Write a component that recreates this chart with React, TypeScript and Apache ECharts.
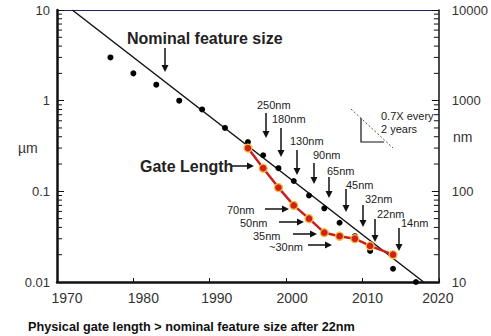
import React, { useEffect, useRef } from "react";
import * as echarts from "echarts";

const FONT = "Liberation Sans, Arial, sans-serif";

// Tick labels
const X_TICKS = [1970, 1980, 1990, 2000, 2010, 2020];
const X_LABEL_SHIFT = [10, 10, 7, 6, 5, -1];
const LEFT_LABELS: Record<string, string> = { "0.01": "0.01", "0.1": "0.1", "1": "1", "10": "10" };
const RIGHT_LABELS: Record<string, string> = { "10": "10", "100": "100", "1000": "1000", "10000": "10000" };
const MINOR_DECADES = [0.01, 0.1, 1];
const MINOR_STEPS = [2, 3, 4, 5, 6, 7, 8, 9];

// Series data (year, micrometres)
const NOMINAL_YEARS = [1977, 1980, 1983, 1986, 1989, 1992, 1995, 1997, 1999, 2001, 2003, 2005, 2007, 2009, 2011, 2014, 2017];
const NOMINAL_UM = [3, 2, 1.5, 1, 0.8, 0.5, 0.35, 0.25, 0.18, 0.13, 0.09, 0.065, 0.045, 0.032, 0.022, 0.014, 0.01];
const GATE_YEARS = [1995, 1997, 1999, 2001, 2003, 2005, 2007, 2009, 2011, 2014];
const GATE_UM = [0.3, 0.18, 0.11, 0.07, 0.05, 0.035, 0.032, 0.03, 0.025, 0.02];
const TREND_YEARS = [1972, 2018];
const TREND_UM = [10, 0.01];

function arrowDown(x: number, y1: number, y2: number) {
  return [
    { type: "line", shape: { x1: x, y1, x2: x, y2: y2 - 5 }, style: { stroke: "#111", lineWidth: 1.5 } },
    { type: "polygon", shape: { points: [[x - 3.5, y2 - 7], [x + 3.5, y2 - 7], [x, y2]] }, style: { fill: "#111" } },
  ];
}
function arrowRight(x1: number, x2: number, y: number) {
  return [
    { type: "line", shape: { x1, y1: y, x2: x2 - 5, y2: y }, style: { stroke: "#111", lineWidth: 1.5 } },
    { type: "polygon", shape: { points: [[x2 - 7, y - 3.5], [x2 - 7, y + 3.5], [x2, y]] }, style: { fill: "#111" } },
  ];
}
function txt(text: string, x: number, y: number, size: number, bold = false, color = "#222") {
  return {
    type: "text",
    x,
    y,
    style: { text, fontSize: size, fontFamily: FONT, fontWeight: bold ? "bold" : "normal", fill: color, textVerticalAlign: "middle", verticalAlign: "middle" },
  };
}

export default function App() {
  const ref = useRef<HTMLDivElement>(null);
  useEffect(() => {
    if (!ref.current) return;
    const chart = echarts.init(ref.current, undefined, { renderer: "svg" });

    const rich: Record<string, any> = {};
    X_TICKS.forEach((t, i) => {
      const d = X_LABEL_SHIFT[i];
      rich["t" + i] = {
        fontSize: 14,
        fontFamily: FONT,
        color: "#333",
        padding: d >= 0 ? [0, 0, 0, 2 * d] : [0, -2 * d, 0, 0],
      };
    });

    const minor: number[][] = [];
    MINOR_DECADES.forEach((d) => MINOR_STEPS.forEach((s) => minor.push([1970, d * s])));

    const annotations: any[] = [
      txt("Nominal feature size", 127, 38, 16, true, "#222"),
      ...arrowDown(165, 48, 72),
      txt("Gate Length", 140, 166, 16, true, "#222"),
      ...arrowRight(232, 254, 166),
      txt("250nm", 257, 105, 11),
      txt("180nm", 272, 119, 11),
      txt("130nm", 290, 141, 11),
      txt("90nm", 313, 155, 11),
      txt("65nm", 327, 171, 11),
      txt("45nm", 346, 185, 11),
      txt("32nm", 365, 199, 11),
      txt("22nm", 377, 214, 11),
      txt("14nm", 401, 223, 11),
      txt("70nm", 227, 210, 11),
      txt("50nm", 240, 223, 11),
      txt("35nm", 253, 236, 11),
      txt("~30nm", 269, 247, 11),
      ...arrowDown(266, 113, 138),
      ...arrowDown(281, 128, 157),
      ...arrowDown(297, 150, 175),
      ...arrowDown(314, 163, 184),
      ...arrowDown(329, 177, 198),
      ...arrowDown(346, 189, 212),
      ...arrowDown(363, 205, 227),
      ...arrowDown(375, 219, 242),
      ...arrowDown(399, 228, 251),
      ...arrowRight(265, 289, 209),
      ...arrowRight(279, 304, 222),
      ...arrowRight(293, 317, 234),
      ...arrowRight(308, 332, 245),
      { type: "line", shape: { x1: 351, y1: 109, x2: 393, y2: 148 }, style: { stroke: "#555", lineWidth: 1, lineDash: [2, 2] } },
      { type: "polyline", shape: { points: [[361, 118], [361, 142], [384, 142]] }, style: { stroke: "#111", lineWidth: 1.2, fill: null } },
      txt("0.7X every", 381, 116, 11),
      txt("2 years", 381, 129, 11),
      txt("\u00b5m", 18, 148, 14, false, "#333"),
      txt("nm", 453, 137, 14, false, "#333"),
      txt("Physical gate length > nominal feature size after 22nm", 28, 327, 12.7, true, "#111"),
    ];

    chart.setOption({
      animation: false,
      backgroundColor: "#fff",
      grid: { left: 57, right: 48, top: 10, bottom: 54 },
      xAxis: [
        {
          type: "value",
          min: 1970,
          max: 2020,
          interval: 10,
          position: "bottom",
          axisLine: { lineStyle: { color: "#111", width: 2.5 } },
          axisTick: { inside: true, length: 4, lineStyle: { color: "#111", width: 1 } },
          splitLine: { show: false },
          axisLabel: {
            margin: 9,
            rich,
            formatter: (v: number) => {
              const i = X_TICKS.indexOf(v);
              return i >= 0 ? `{t${i}|${v}}` : "";
            },
          },
        },
        {
          type: "value",
          min: 1970,
          max: 2020,
          position: "top",
          axisLine: { show: true, onZero: false, lineStyle: { color: "#1b2a5c", width: 1.2 } },
          axisTick: { show: false },
          axisLabel: { show: false },
          splitLine: { show: false },
        },
      ],
      yAxis: [
        {
          type: "log",
          logBase: 10,
          min: 0.01,
          max: 10,
          position: "left",
          axisLine: { show: true, lineStyle: { color: "#111", width: 2.5 } },
          axisTick: { show: true, inside: true, length: 7, lineStyle: { color: "#111", width: 1 } },
          splitLine: { show: false },
          axisLabel: {
            margin: 7,
            fontSize: 13,
            fontFamily: FONT,
            color: "#333",
            formatter: (v: number) => LEFT_LABELS[String(+v.toPrecision(3))] ?? "",
          },
        },
        {
          type: "log",
          logBase: 10,
          min: 10,
          max: 10000,
          position: "right",
          axisLine: { show: true, lineStyle: { color: "#111", width: 1.5 } },
          axisTick: { show: true, inside: true, length: 7, lineStyle: { color: "#111", width: 1 } },
          splitLine: { show: false },
          axisLabel: {
            margin: 13,
            fontSize: 13,
            fontFamily: FONT,
            color: "#333",
            formatter: (v: number) => RIGHT_LABELS[String(Math.round(v))] ?? "",
          },
        },
      ],
      series: [
        {
          type: "custom",
          xAxisIndex: 0,
          yAxisIndex: 0,
          silent: true,
          clip: false,
          data: minor,
          renderItem: (params: any, api: any) => {
            const y = api.coord([api.value(0), api.value(1)])[1];
            const cs = params.coordSys;
            return {
              type: "group",
              children: [
                { type: "line", shape: { x1: cs.x, y1: y, x2: cs.x + 5, y2: y }, style: { stroke: "#111", lineWidth: 1 } },
                { type: "line", shape: { x1: cs.x + cs.width - 5, y1: y, x2: cs.x + cs.width, y2: y }, style: { stroke: "#111", lineWidth: 1 } },
              ],
            };
          },
          z: 1,
        },
        {
          type: "line",
          name: "trend",
          data: TREND_YEARS.map((y, i) => [y, TREND_UM[i]]),
          symbol: "none",
          lineStyle: { color: "#111", width: 1.5 },
          clip: true,
          z: 2,
        },
        {
          type: "scatter",
          name: "Nominal feature size",
          data: NOMINAL_YEARS.map((y, i) => [y, NOMINAL_UM[i]]),
          symbol: "circle",
          symbolSize: 6,
          itemStyle: { color: "#000", opacity: 1 },
          clip: false,
          z: 4,
        },
        {
          type: "line",
          name: "Gate Length",
          data: GATE_YEARS.map((y, i) => [y, GATE_UM[i]]),
          symbol: "circle",
          symbolSize: 8,
          showSymbol: true,
          lineStyle: { color: "#cc1f1c", width: 2.5 },
          itemStyle: { color: "#d0211e", borderColor: "#f2c03a", borderWidth: 1.3 },
          z: 5,
        },
      ],
      graphic: annotations,
    });
    return () => chart.dispose();
  }, []);
  return <div ref={ref} style={{ position: "absolute", left: 0, top: 0, width: 491, height: 336 }} />;
}
